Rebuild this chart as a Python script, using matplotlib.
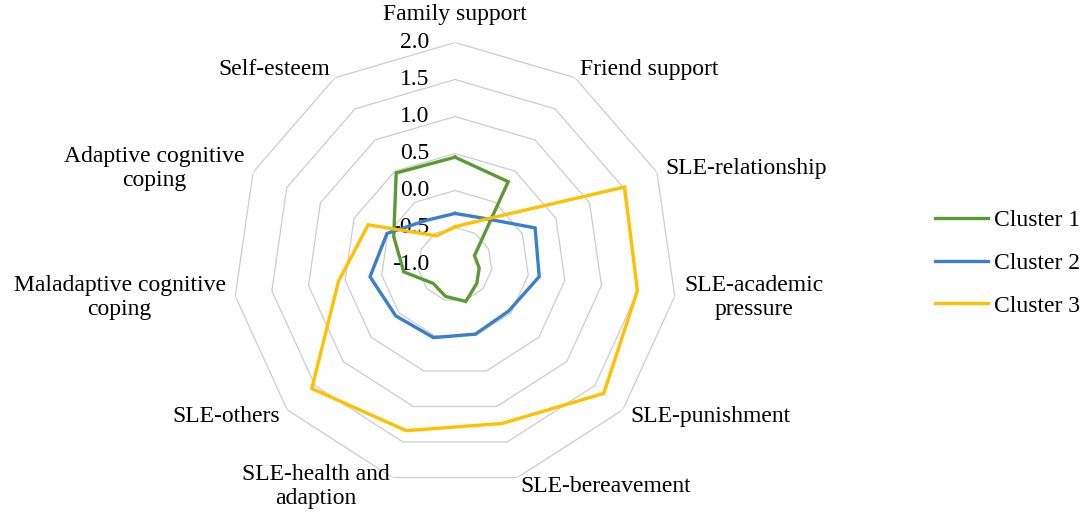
import numpy as np
import matplotlib
matplotlib.use('Agg')
import matplotlib.pyplot as plt

# categories, clockwise from the top
categories = ['Family support', 'Friend support', 'SLE-relationship',
              'SLE-academic\npressure', 'SLE-punishment', 'SLE-bereavement',
              'SLE-health and\nadaption', 'SLE-others',
              'Maladaptive cognitive\ncoping', 'Adaptive cognitive\ncoping',
              'Self-esteem']
cluster1 = [0.45, 0.33, -0.71, -0.67, -0.61, -0.48, -0.55, -0.61, -0.30, -0.09, 0.47]
cluster2 = [-0.31, -0.26, 0.19, 0.15, -0.04, -0.02, 0.03, 0.06, 0.16, 0.01, -0.29]
cluster3 = [-0.49, -0.28, 1.52, 1.49, 1.66, 1.24, 1.34, 1.56, 0.59, 0.29, -0.54]
series_names = ['Cluster 1', 'Cluster 2', 'Cluster 3']
series_colors = ['#5a9a30', '#3a7fc8', '#ffc000']
ring_values = [-0.5, 0.0, 0.5, 1.0, 1.5, 2.0]
tick_values = [-1.0, -0.5, 0.0, 0.5, 1.0, 1.5, 2.0]

plt.rcParams['font.family'] = ['Liberation Serif', 'DejaVu Serif']
plt.rcParams['font.size'] = 17

n = len(categories)
angles = np.arange(n) * 2 * np.pi / n
closed = np.append(angles, angles[0])

fig = plt.figure(figsize=(10.84, 5.15), dpi=100)
# centre of the web at (455, 264.5) px, outer ring radius 222 px
ax = fig.add_axes([233 / 1084, 28.5 / 515, 444 / 1084, 444 / 515], projection='polar')
ax.set_theta_offset(np.pi / 2)
ax.set_theta_direction(-1)
ax.set_ylim(-1.0, 2.0)
ax.grid(False)
ax.set_xticks([])
ax.set_yticks([])
ax.spines['polar'].set_visible(False)

# gridline polygons
for v in ring_values:
    ax.plot(closed, [v] * (n + 1), color='#cccccc', lw=0.9, zorder=1)

# series
for name, vals, col in zip(series_names, [cluster1, cluster2, cluster3], series_colors):
    ax.plot(closed, list(vals) + [vals[0]], color=col, lw=2.4, label=name,
            zorder=3, solid_joinstyle='miter')

# value axis labels
for v in tick_values:
    ax.annotate('%.1f' % v, xy=(0, v), xytext=(-26, 0), textcoords='offset pixels',
                ha='right', va='center', zorder=2, annotation_clip=False)

# category labels
for a, lab in zip(angles, categories):
    deg = np.degrees(a)
    if deg < 1:
        ax.text(a, 2.38, lab, ha='center', va='center', clip_on=False)
    elif deg < 180:
        ax.text(a, 2.13, lab, ha='left', va='center', multialignment='center', clip_on=False)
    else:
        ax.text(a, 2.13, lab, ha='right', va='center', multialignment='center', clip_on=False)

fig.legend(loc='center left', bbox_to_anchor=(935 / 1084, 1 - 263 / 515),
           frameon=False, handlelength=2.25, handletextpad=0.25,
           labelspacing=0.9, borderpad=0, borderaxespad=0)

fig.savefig('out.png', dpi=100)
